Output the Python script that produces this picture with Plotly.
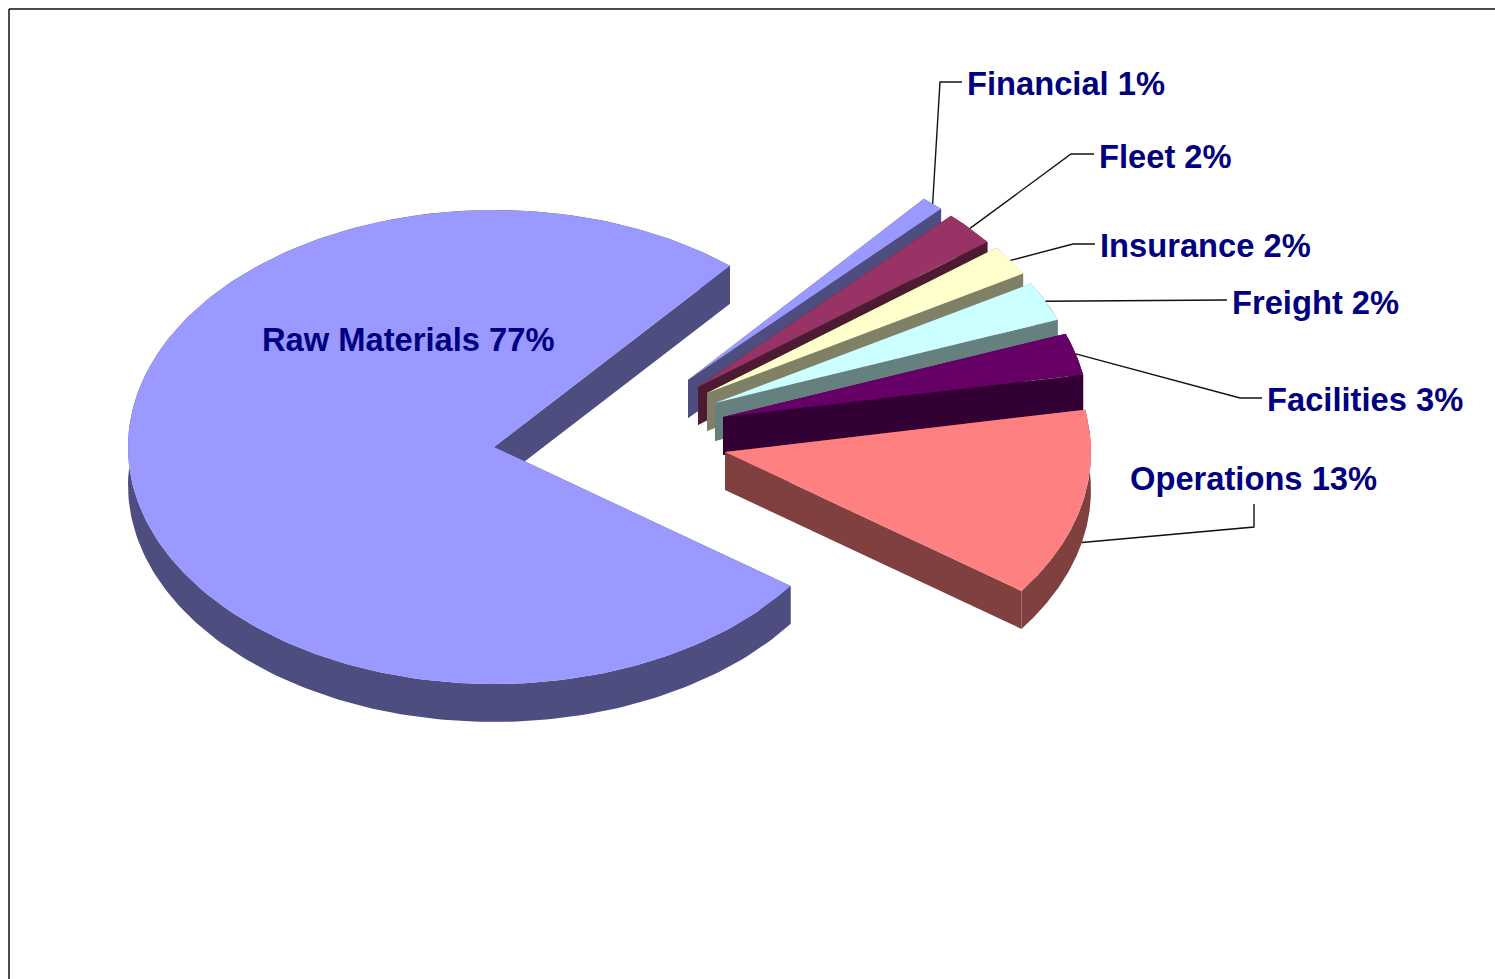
import numpy as np
import plotly.graph_objects as go

# Data, clockwise from the lower edge of the main slice
categories = ["Raw Materials", "Financial", "Fleet", "Insurance", "Freight", "Facilities", "Operations"]
values = [76.18, 1.0, 2.36, 2.08, 2.69, 2.86, 12.83]
percent_labels = [77, 1, 2, 2, 2, 3, 13]
top_colors = ["#9999FF", "#9999FF", "#993366", "#FFFFCC", "#CCFFFF", "#660066", "#FF8080"]
side_colors = ["#4D4D80", "#4D4D80", "#4D1A33", "#808066", "#668080", "#330033", "#804040"]

# Projection of the tilted pie
CX, CY = 494, 447
RX, RY = 366, 237
DEPTH = 38
START_ANGLE = -35.9
# Explosion of each slice from the pie centre, in pixels
explode = {
    "Raw Materials": (0, 0), "Financial": (194, -67), "Fleet": (204, -60), "Insurance": (213, -54),
    "Freight": (221, -44), "Facilities": (229, -30), "Operations": (231, 5),
}
# Label placement: text anchor, leader elbow points, and whether the leader lands on the side wall
labels = {
    "Raw Materials": dict(pos=(262, 340), elbow=[], wall=False),
    "Financial": dict(pos=(967, 84), elbow=[(940, 82), (962, 82)], wall=False),
    "Fleet": dict(pos=(1099, 157), elbow=[(1071, 154), (1094, 154)], wall=False),
    "Insurance": dict(pos=(1100, 246), elbow=[(1073, 244), (1095, 244)], wall=False),
    "Freight": dict(pos=(1232, 303), elbow=[(1227, 300)], wall=False),
    "Facilities": dict(pos=(1267, 400), elbow=[(1240, 398), (1262, 398)], wall=False),
    "Operations": dict(pos=(1130, 479), elbow=[(1254, 527), (1254, 504)], wall=True),
}
NAVY = "#000080"

fig = go.Figure()


def poly(xs, ys, color, name):
    fig.add_trace(go.Scatter(x=xs, y=ys, mode="lines", fill="toself", fillcolor=color,
                             line=dict(width=0, color=color), hoverinfo="skip", name=name, showlegend=False))


# slice angles (clockwise from START_ANGLE)
total = sum(values)
angle = START_ANGLE
spans = {}
for cat, v in zip(categories, values):
    sweep = v / total * 360
    spans[cat] = (angle - sweep, angle)  # low, high in maths degrees
    angle -= sweep

# Paint back to front: main pie, then exploded slices from the top down
for cat, top, side in zip(categories, top_colors, side_colors):
    lo, hi = spans[cat]
    ox, oy = explode[cat]
    ax, ay = CX + ox, CY + oy
    t = np.radians(np.linspace(lo, hi, 240))
    ex = ax + RX * np.cos(t)
    ey = ay - RY * np.sin(t)
    # outer wall
    poly(np.r_[ex, ex[::-1]], np.r_[ey, ey[::-1] + DEPTH], side, cat + " wall")
    # cut walls
    for i in (0, -1):
        poly([ax, ex[i], ex[i], ax], [ay, ey[i], ey[i] + DEPTH, ay + DEPTH], side, cat + " cut")
    # top
    poly(np.r_[ax, ex, ax], np.r_[ay, ey, ay], top, cat)

# Leaders and labels
for cat, pct in zip(categories, percent_labels):
    cfg = labels[cat]
    lo, hi = spans[cat]
    ox, oy = explode[cat]
    mid = np.radians((lo + hi) / 2)
    if cfg["elbow"]:
        sx = CX + ox + RX * np.cos(mid)
        sy = CY + oy - RY * np.sin(mid) + (DEPTH if cfg["wall"] else 0)
        pts = [(sx, sy)] + cfg["elbow"]
        fig.add_trace(go.Scatter(x=[p[0] for p in pts], y=[p[1] for p in pts], mode="lines",
                                 line=dict(color="#111111", width=1.4), hoverinfo="skip", showlegend=False))
    fig.add_annotation(x=cfg["pos"][0], y=cfg["pos"][1], text=f"<b>{cat} {pct}%</b>", showarrow=False,
                       xanchor="left", yanchor="middle", xshift=-2, yshift=1,
                       font=dict(family="Liberation Sans, Arial, sans-serif", size=32.7, color=NAVY))

fig.update_layout(
    width=1495, height=979, margin=dict(l=0, r=0, t=0, b=0), showlegend=False,
    paper_bgcolor="white", plot_bgcolor="white",
    xaxis=dict(range=[0, 1495], visible=False, fixedrange=True),
    yaxis=dict(range=[979, 0], visible=False, fixedrange=True),
    shapes=[
        dict(type="line", xref="x", yref="y", x0=9, y0=9, x1=1495, y1=9, line=dict(color="#111111", width=1.5)),
        dict(type="line", xref="x", yref="y", x0=9, y0=9, x1=9, y1=979, line=dict(color="#111111", width=1.5)),
    ],
)
fig.write_html("out.html", config={"displayModeBar": False},
               post_script="document.body.style.margin='0';document.body.style.overflow='hidden';")
